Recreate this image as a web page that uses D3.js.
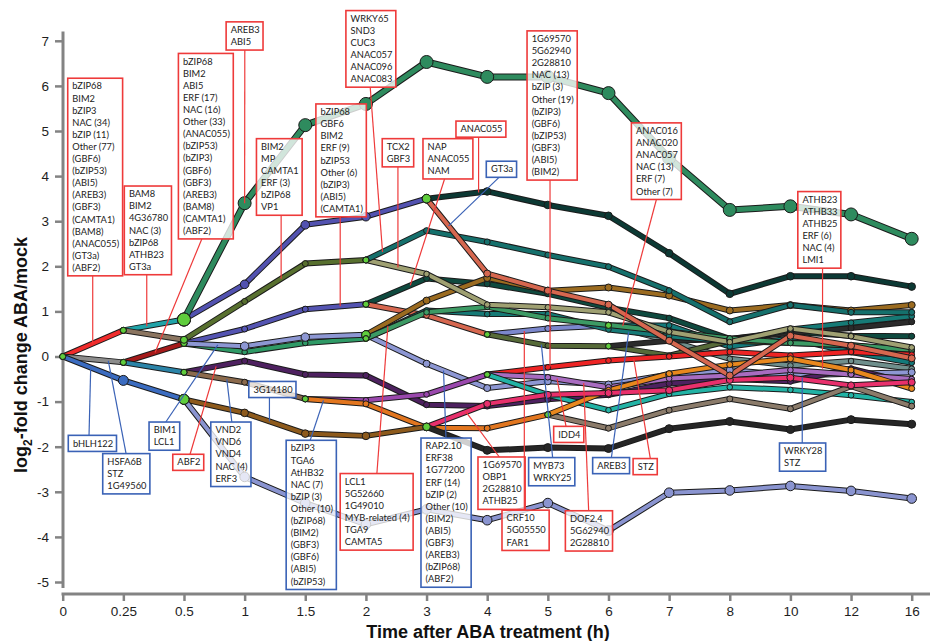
<!DOCTYPE html>
<html>
<head>
<meta charset="utf-8">
<script src="https://cdn.jsdelivr.net/npm/d3@7"></script>
<style>
  body { margin: 0; background: #fff; }
  svg { display: block; }
</style>
</head>
<body>
<svg id="chart" width="930" height="641"></svg>
<script>
// Time points (h) after ABA treatment
const times = ["0", "0.25", "0.5", "1", "1.5", "2", "3", "4", "5", "6", "7", "8", "10", "12", "16"];
const yTicks = [-5, -4, -3, -2, -1, 0, 1, 2, 3, 4, 5, 6, 7];

// Model paths: each branch leaves the tree at time index `start`
// and lists log2 fold changes from that point onwards.
const branches = [
  { start: 0, values: [0, 0.58] },
  { start: 0, values: [0, -0.13] },
  { start: 0, values: [0, -0.53, -0.95] },
  { start: 1, values: [0.58, 0.82] },
  { start: 1, values: [0.58, 0.37] },
  { start: 1, values: [-0.13, 0.29] },
  { start: 1, values: [-0.13, -0.35] },
  { start: 2, values: [0.29, 0.61, 1.05, 1.16] },
  { start: 5, values: [1.16, 1.73, 1.61, 1.39, 1.08, 0.85, 0.39, 0.55, 0.46, 0.45] },
  { start: 5, values: [1.16, 0.91, 0.49] },
  { start: 7, values: [0.49, 0.62, 0.69] },
  { start: 9, values: [0.69, 0.69, 0.22, 0.4, 0.1, -0.14] },
  { start: 9, values: [0.69, 0.35, -0.05, -0.2, -0.1, -0.27] },
  { start: 7, values: [0.49, 0.24, 0.23, 0.02, 0.35, 0.3, 0.25, 0.12] },
  { start: 9, values: [0.23, 0.35, 0.39, 0.52, 0.63, 0.77] },
  { start: 2, values: [0.29, 0.1, 0.30, 0.40] },
  { start: 2, values: [0.29, 0.23, 0.43, 0.48] },
  { start: 5, values: [0.48, 1.24, 1.74, 1.46, 1.53, 1.35, 1.02, 1.14, 1.02, 1.14] },
  { start: 5, values: [0.48, -0.16, -0.7, -0.55, -0.62, -0.4, -0.3, -0.42, -0.38, -0.35] },
  { start: 5, values: [0.40, 1.02, 0.94, 0.94, 0.6, 0.45, 0.33, 0.6, 0.75, 0.89] },
  { start: 5, values: [0.40, 0.98, 1.1, 0.85, 0.7, 0.55, 0.4, 0.3, 0.25, 0.15] },
  { start: 2, values: [0.37, 1.22, 2.06, 2.14] },
  { start: 5, values: [2.14, 1.83, 1.15, 1.09, 0.98, 0.55, 0.32, 0.62, 0.45, 0.2] },
  { start: 5, values: [2.14, 2.79, 2.54, 2.25, 1.99, 1.46, 0.77, 1.14, 0.98, 0.98] },
  { start: 2, values: [-0.35, -0.1, -0.4, -0.42, -1.07, -1.1, -0.95, -0.85, -0.6, -0.5, -0.55, -0.27, -0.6] },
  { start: 2, values: [-0.35, -0.57, -0.94] },
  { start: 4, values: [-0.94, -0.97, -0.84, -0.4] },
  { start: 7, values: [-0.4, -0.24, -0.09, 0, 0.1, 0.02, 0.1, 0.04] },
  { start: 7, values: [-0.4, -0.46, -0.68, -0.49, -0.42, -0.3, -0.4, -0.5] },
  { start: 7, values: [-0.4, -0.85, -1.19, -0.83, -0.68, -0.74, -0.86, -1.01] },
  { start: 4, values: [-0.94, -1.05, -1.58, -1.59, -1.29] },
  { start: 8, values: [-1.29, -1.59, -1.19, -0.94, -1.16, -0.66, -1.1] },
  { start: 8, values: [-1.29, -0.75, -0.38, -0.18, -0.05, -0.3, -0.71] },
  { start: 2, values: [-0.95, -1.25, -1.71, -1.76, -1.56] },
  { start: 6, values: [-1.56, -1.05, -0.85, -0.81, -0.75, -0.52, -0.47, -0.64, -0.57] },
  { start: 6, values: [-1.56, -2.08, -2.02, -2.04, -1.6, -1.44, -1.62, -1.4, -1.5] },
  { start: 2, values: [-0.95, -2.67, -3.25, -3.72, -3.39, -3.63, -3.25, -3.86, -3.02, -2.97, -2.87, -2.98, -3.15] },
  { start: 2, values: [0.82, 1.6, 2.92, 3.1, 3.5] },
  { start: 6, values: [3.5, 1.84, 1.46, 1.15, 0.35, -0.42, 0.46, 0.24, -0.04] },
  { start: 6, values: [3.5, 3.66, 3.36, 3.12, 2.29, 1.39, 1.78, 1.78, 1.55] },
  { start: 2, values: [0.82, 3.4, 5.13, 5.6, 6.53, 6.2, 6.2, 5.84, 4.4, 3.25, 3.33, 3.15, 2.61] }
];

const branchColors = [
  "#f02b2b", "#8c8c8c", "#3b6cc0", "#20a3a8", "#8b7560", "#a51a1a", "#2b84a8",
  "#5454b2", "#0f4a3f", "#d6674f", "#7b87cc", "#137a7a", "#6f8f8c", "#566a38", "#2b2b2b",
  "#2f9a66", "#8d97d3", "#9b6b20", "#8d97d3", "#167a76", "#3c9a64", "#58702f", "#9fa072", "#15706c",
  "#4e2160", "#8b6a4c", "#9a48ad", "#ee2424", "#a86cc0", "#22b3a5", "#e2761f", "#8b7b6a", "#e8881e",
  "#8d5a1c", "#e8306c", "#262626", "#8a94d0",
  "#5252b0", "#d6674f", "#0c3934", "#2e8b5e"
];

const nodeRadius = [
  3, 3, 5, 6.5, 3.5, 3, 3,
  3, 3, 2.8, 3, 2.8, 2.8, 2.8, 3,
  2.8, 4.2, 3.5, 3.5, 2.8, 2.8, 3, 2.8, 3,
  3, 3, 2.8, 2.8, 2.8, 2.8, 3, 3, 3,
  3.8, 3.5, 4, 4.8,
  4.3, 3.5, 3.8, 6.5
];

// Transcription factor annotation boxes (positions in time-index / log2 units)
const annotations = [
  { tone: "up", at: [0.083, 6.17], hook: 0.495, to: [0.495, 0.29],
    text: ["bZIP68", "BIM2", "bZIP3", "NAC (34)", "bZIP (11)", "Other (77)", "(GBF6)", "(bZIP53)", "(ABI5)", "(AREB3)", "(GBF3)", "(CAMTA1)", "(BAM8)", "(ANAC055)", "(GT3a)", "(ABF2)"] },
  { tone: "up", at: [1.016, 3.78], hook: 1.386, to: [1.386, 0.673],
    text: ["BAM8", "BIM2", "4G36780", "NAC (3)", "bZIP68", "ATHB23", "GT3a"] },
  { tone: "up", at: [1.908, 6.72], hook: 2.294, to: [1.523, 0.09],
    text: ["bZIP68", "BIM2", "ABI5", "ERF (17)", "NAC (16)", "Other (33)", "(ANAC055)", "(bZIP53)", "(bZIP3)", "(GBF6)", "(GBF3)", "(AREB3)", "(BAM8)", "(CAMTA1)", "(ABF2)"] },
  { tone: "up", at: [2.695, 7.42], hook: 3.003, to: [3, 3.4], text: ["AREB3", "ABI5"] },
  { tone: "up", at: [3.195, 4.83], hook: 3.602, to: [3.602, 1.726],
    text: ["BIM2", "MP", "CAMTA1", "ERF (3)", "bZIP68", "VP1"] },
  { tone: "up", at: [4.175, 5.60], hook: 4.576, to: [4.576, 1.113],
    text: ["bZIP68", "GBF6", "BIM2", "ERF (9)", "bZIP53", "Other (6)", "(bZIP3)", "(ABI5)", "(CAMTA1)"] },
  { tone: "up", at: [4.67, 7.67], hook: 5.071, to: [5.274, 2.318],
    text: ["WRKY65", "SND3", "CUC3", "ANAC057", "ANAC096", "ANAC083"] },
  { tone: "up", at: [5.269, 4.83], hook: 5.528, to: [5.528, 1.976], text: ["TCX2", "GBF3"] },
  { tone: "up", at: [5.941, 4.83], hook: 6.297, to: [5.731, 1.577], text: ["NAP", "ANAC055", "NAM"] },
  { tone: "up", at: [6.485, 5.22], hook: 6.858, to: [6.858, 3.637], text: ["ANAC055"] },
  { tone: "down", at: [6.985, 4.33], hook: 7.195, to: [6.363, 2.897], text: ["GT3a"] },
  { tone: "up", at: [7.657, 7.22], hook: 8.036, to: [8.036, -0.23],
    text: ["1G69570", "5G62940", "2G28810", "NAC (13)", "bZIP (3)", "Other (19)", "(bZIP3)", "(GBF6)", "(bZIP53)", "(GBF3)", "(ABI5)", "(BIM2)"] },
  { tone: "up", at: [9.378, 5.18], hook: 9.79, to: [9.234, 0.675],
    text: ["ANAC016", "ANAC020", "ANAC057", "NAC (13)", "ERF (7)", "Other (7)"] },
  { tone: "up", at: [12.122, 3.657], hook: 12.53, to: [12.53, -0.27],
    text: ["ATHB23", "ATHB33", "ATHB25", "ERF (6)", "NAC (4)", "LMI1"] },
  { tone: "down", at: [0.092, -1.748], hook: 0.434, to: [0.462, -0.245], text: ["bHLH122"] },
  { tone: "down", at: [0.66, -2.153], hook: 1.045, to: [0.752, -0.098], text: ["HSFA6B", "STZ", "1G49560"] },
  { tone: "down", at: [1.424, -1.453], hook: 1.70, to: [2.558, 0.256], text: ["BIM1", "LCL1"] },
  { tone: "up", at: [1.815, -2.168], hook: 2.10, to: [2.53, -0.218], text: ["ABF2"] },
  { tone: "down", at: [2.442, -1.453], hook: 2.789, to: [2.706, -0.505],
    text: ["VND2", "VND6", "VND4", "NAC (4)", "ERF3"] },
  { tone: "down", at: [3.069, -0.553], hook: 3.409, to: [3.409, -1.438], text: ["3G14180"] },
  { tone: "down", at: [3.685, -1.858], hook: 4.081, to: [4.3, -0.973],
    text: ["bZIP3", "TGA6", "AtHB32", "NAC (7)", "bZIP (3)", "Other (10)", "(bZIP68)", "(BIM2)", "(GBF3)", "(GBF6)", "(ABI5)", "(bZIP53)"] },
  { tone: "up", at: [4.576, -2.595], hook: 5.181, to: [5.363, 0.68],
    text: ["LCL1", "5G52660", "1G49010", "MYB-related (4)", "TGA9", "CAMTA5"] },
  { tone: "down", at: [5.908, -1.808], hook: 6.32, to: [6.28, -0.311],
    text: ["RAP2.10", "ERF38", "1G77200", "ERF (14)", "bZIP (2)", "Other (10)", "(BIM2)", "(ABI5)", "(GBF3)", "(AREB3)", "(bZIP68)", "(ABF2)"] },
  { tone: "up", at: [6.848, -2.228], hook: 7.20, to: [6.65, -1.228], text: ["1G69570", "OBP1", "2G28810", "ATHB25"] },
  { tone: "up", at: [7.244, -3.407], hook: 7.612, to: [7.612, 0.563], text: ["CRF10", "5G05550", "FAR1"] },
  { tone: "up", at: [8.096, -1.549], hook: 8.30, to: [8.152, -0.49], text: ["IDD4"] },
  { tone: "down", at: [7.683, -2.241], hook: 8.079, to: [7.893, 0.267], text: ["MYB73", "WRKY25"] },
  { tone: "up", at: [8.289, -3.42], hook: 8.673, to: [8.591, -0.59], text: ["DOF2.4", "5G62940", "2G28810"] },
  { tone: "down", at: [8.739, -2.241], hook: 9.048, to: [9.333, 0.547], text: ["AREB3"] },
  { tone: "up", at: [9.406, -2.263], hook: 9.69, to: [9.416, -0.05], text: ["STZ"] },
  { tone: "down", at: [11.82, -1.918], hook: 12.195, to: [12.195, -0.458], text: ["WRKY28", "STZ"] }
];

const toneColor = { up: "#ee3a3a", down: "#3a62b6" };
const axisGray = "#838383";

const svg = d3.select("#chart");
const x = d3.scalePoint().domain(times).range([62.7, 911.7]);
const y = d3.scaleLinear().domain([-5, 7]).range([582, 40.8]);
const xi = i => x(times[0]) + i * x.step();

// ---- axes ----
const yAxis = svg.append("g")
  .attr("transform", "translate(63,0)")
  .call(d3.axisLeft(y).tickValues(yTicks).tickSize(8).tickPadding(6).tickFormat(d => String(d)));
yAxis.select(".domain").remove();
svg.append("line").attr("x1", 63).attr("x2", 63).attr("y1", 31.5).attr("y2", 588)
  .attr("stroke", axisGray).attr("stroke-width", 3);

const xAxis = svg.append("g")
  .attr("transform", "translate(0,594)")
  .call(d3.axisBottom(x).tickSize(7).tickPadding(5));
xAxis.select(".domain").remove();
svg.append("line").attr("x1", 61.5).attr("x2", 930).attr("y1", 594).attr("y2", 594)
  .attr("stroke", axisGray).attr("stroke-width", 3);

svg.selectAll(".tick line").attr("stroke", axisGray).attr("stroke-width", 2.5);
svg.selectAll(".tick text")
  .attr("font-family", "'Liberation Sans', Arial, sans-serif")
  .attr("font-size", 13.5).attr("fill", "#1e1e1e");

svg.append("text")
  .attr("x", 488).attr("y", 638)
  .attr("text-anchor", "middle")
  .attr("font-family", "'Liberation Sans', Arial, sans-serif")
  .attr("font-weight", "bold").attr("font-size", 18).attr("fill", "#111")
  .text("Time after ABA treatment (h)");

const yTitle = svg.append("text")
  .attr("transform", "translate(27,355) rotate(-90)")
  .attr("text-anchor", "middle")
  .attr("font-family", "'Liberation Sans', Arial, sans-serif")
  .attr("font-weight", "bold").attr("font-size", 18).attr("fill", "#111");
yTitle.append("tspan").text("log");
yTitle.append("tspan").attr("font-size", 12).attr("dy", 5).text("2");
yTitle.append("tspan").attr("dy", -5).text("-fold change ABA/mock");

// ---- paths ----
const line = d3.line().x(d => xi(d[0])).y(d => y(d[1]));
const pointsOf = b => b.values.map((v, j) => [b.start + j, v]);
const gLines = svg.append("g");
branches.forEach((b, k) => {
  const w = k === branches.length - 1 ? 5 : 4;
  const d = line(pointsOf(b));
  gLines.append("path").attr("d", d).attr("fill", "none")
    .attr("stroke", "#1b1b1b").attr("stroke-width", w + 2)
    .attr("stroke-linejoin", "round").attr("stroke-linecap", "round");
  gLines.append("path").attr("d", d).attr("fill", "none")
    .attr("stroke", branchColors[k]).attr("stroke-width", w)
    .attr("stroke-linejoin", "round").attr("stroke-linecap", "round");
});

// ---- nodes ----
const gNodes = svg.append("g");
branches.forEach((b, k) => {
  pointsOf(b).slice(1).forEach(p => {
    gNodes.append("circle").attr("cx", xi(p[0])).attr("cy", y(p[1]))
      .attr("r", nodeRadius[k]).attr("fill", branchColors[k])
      .attr("stroke", "#1a1a1a").attr("stroke-width", 1);
  });
});
// branching points are marked in green
branches.forEach(b => {
  const v0 = b.values[0];
  let r = 3;
  branches.forEach((p, k) => {
    const j = b.start - p.start;
    if (j > 0 && j < p.values.length && p.values[j] === v0) r = nodeRadius[k];
  });
  gNodes.append("circle").attr("cx", xi(b.start)).attr("cy", y(v0))
    .attr("r", r).attr("fill", "#5fcd3c")
    .attr("stroke", "#1a1a1a").attr("stroke-width", 1);
});

// ---- annotation boxes ----
const gAnn = svg.append("g");
const lineH = 12.1;
annotations.forEach(a => {
  const col = toneColor[a.tone];
  const left = xi(a.at[0]);
  const top = y(a.at[1]);
  const h = a.text.length * lineH + 4;
  const g = gAnn.append("g");
  const ty = y(a.to[1]);
  const fromY = ty > top + h ? top + h : top;
  g.append("line")
    .attr("x1", xi(a.hook)).attr("y1", fromY)
    .attr("x2", xi(a.to[0])).attr("y2", ty)
    .attr("stroke", col).attr("stroke-width", 1.2);
  const rect = g.append("rect").attr("x", left).attr("y", top).attr("height", h)
    .attr("fill", "#fff").attr("fill-opacity", 0.78)
    .attr("stroke", col).attr("stroke-width", 1.6);
  const txt = g.append("text")
    .attr("font-family", "Lato, 'Open Sans', sans-serif")
    .attr("font-size", 9.3).attr("fill", "#222");
  let maxW = 0;
  a.text.forEach((s, i) => {
    const t = txt.append("tspan").attr("x", left + 4.6).attr("y", top + 11.2 + i * lineH).text(s);
    maxW = Math.max(maxW, t.node().getComputedTextLength());
  });
  rect.attr("width", maxW + 8);
});
</script>
</body>
</html>
